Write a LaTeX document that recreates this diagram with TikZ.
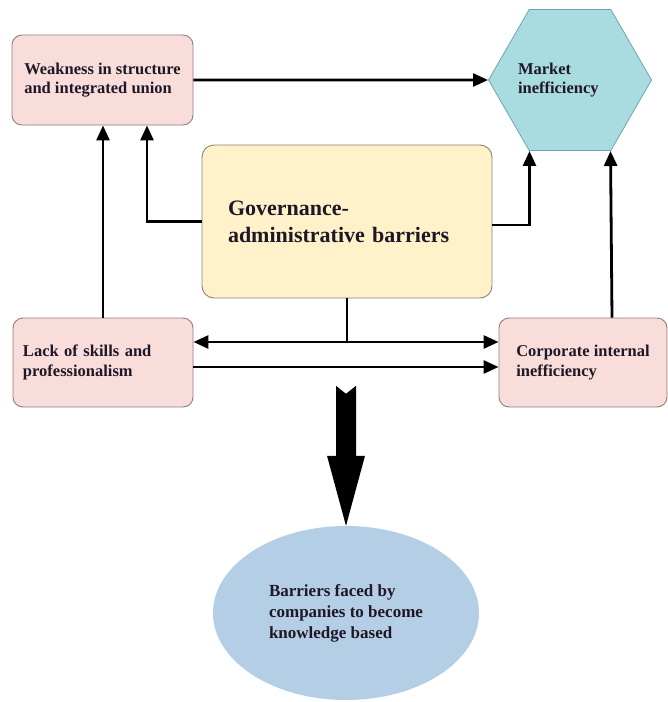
\documentclass[tikz,border=0pt]{standalone}
\usepackage{fontspec}
\setmainfont{Liberation Serif}
\usetikzlibrary{shapes.geometric,arrows.meta,calc}
\definecolor{pinkfill}{RGB}{248,221,219}
\definecolor{pinkdraw}{RGB}{150,122,120}
\definecolor{yelfill}{RGB}{255,241,201}
\definecolor{yeldraw}{RGB}{140,130,115}
\definecolor{hexfill}{RGB}{168,220,224}
\definecolor{hexdraw}{RGB}{110,165,170}
\definecolor{ellfill}{RGB}{180,206,230}
\definecolor{txt}{RGB}{30,24,38}
\begin{document}
\begin{tikzpicture}[x=1pt,y=-1pt,
  box/.style={rectangle, rounded corners=10pt, draw=pinkdraw, line width=0.9pt,
    fill=pinkfill, text=txt, font=\bfseries\fontsize{16.5}{19.5}\selectfont},
  arr/.style={line width=2.8pt, -{Triangle[length=15pt,width=13pt]}},
  darr/.style={line width=2.8pt, {Triangle[length=15pt,width=13pt]}-{Triangle[length=15pt,width=13pt]}},
  plain/.style={line width=2.8pt}]
\useasboundingbox (0,0) rectangle (668,702);
\fill[white] (0,0) rectangle (668,702);

% nodes
\node[box, align=left, minimum width=181pt, minimum height=90pt] (weak) at (102.5,80)
  {Weakness in structure\\and integrated union};
\node[regular polygon, regular polygon sides=6, minimum size=163pt, inner sep=0pt,
  fill=hexfill, draw=hexdraw, line width=0.8pt, text=txt, text width=88pt, align=left,
  font=\bfseries\fontsize{16.5}{19.5}\selectfont] (mkt) at (570,80)
  {\hspace*{-8pt}Market\\\hspace*{-8pt}inefficiency};
\node[rectangle, rounded corners=12pt, draw=yeldraw, line width=0.9pt, fill=yelfill,
  text=txt, font=\bfseries\fontsize{22}{27}\selectfont, align=left,
  text width=238pt, inner xsep=26pt, minimum height=153pt] (gov) at (347,221.5)
  {Governance-\\administrative barriers};
\node[box, align=left, text width=160pt, inner xsep=10pt, minimum height=89pt] (lack) at (103,362.5)
  {Lack of skills and\\professionalism};
\node[box, align=left, minimum width=168pt, minimum height=89pt] (corp) at (583,362.5)
  {Corporate internal\\inefficiency};
\node[ellipse, fill=ellfill, draw=none, text=txt, align=left, minimum width=266pt,
  minimum height=174pt, font=\bfseries\fontsize{17}{21}\selectfont] (goal) at (346,613)
  {Barriers faced by\\companies to become\\knowledge based};

% connectors
\draw[arr] (weak.east) -- (mkt.west);
\draw[arr] (gov.west) -| ([xshift=44.5pt]weak.south);
\draw[arr] (lack.north) -- (lack.north |- weak.south);
\draw[arr] ([yshift=-3.5pt]gov.east) -| ([xshift=-40.5pt]mkt.south);
\draw[arr] ([xshift=29pt]corp.north) -- ([xshift=40.5pt]mkt.south);
\coordinate (ja) at ([yshift=20.5pt]lack.east);
\coordinate (jb) at ([yshift=20.5pt]corp.west);
\draw[darr] (ja) -- (jb);
\draw[plain] (gov.south) -- (gov.south |- ja);
\draw[arr] ([yshift=-4.5pt]lack.east) -- ([yshift=-4.5pt]corp.west);

% big arrow to the goal
\fill[black] ([shift={(-10,-140)}]goal.north) -- ([shift={(0,-132)}]goal.north)
  -- ([shift={(10,-140)}]goal.north) -- ([shift={(10,-70)}]goal.north)
  -- ([shift={(19,-70)}]goal.north) -- (goal.north)
  -- ([shift={(-19,-70)}]goal.north) -- ([shift={(-10,-70)}]goal.north) -- cycle;
\end{tikzpicture}
\end{document}
